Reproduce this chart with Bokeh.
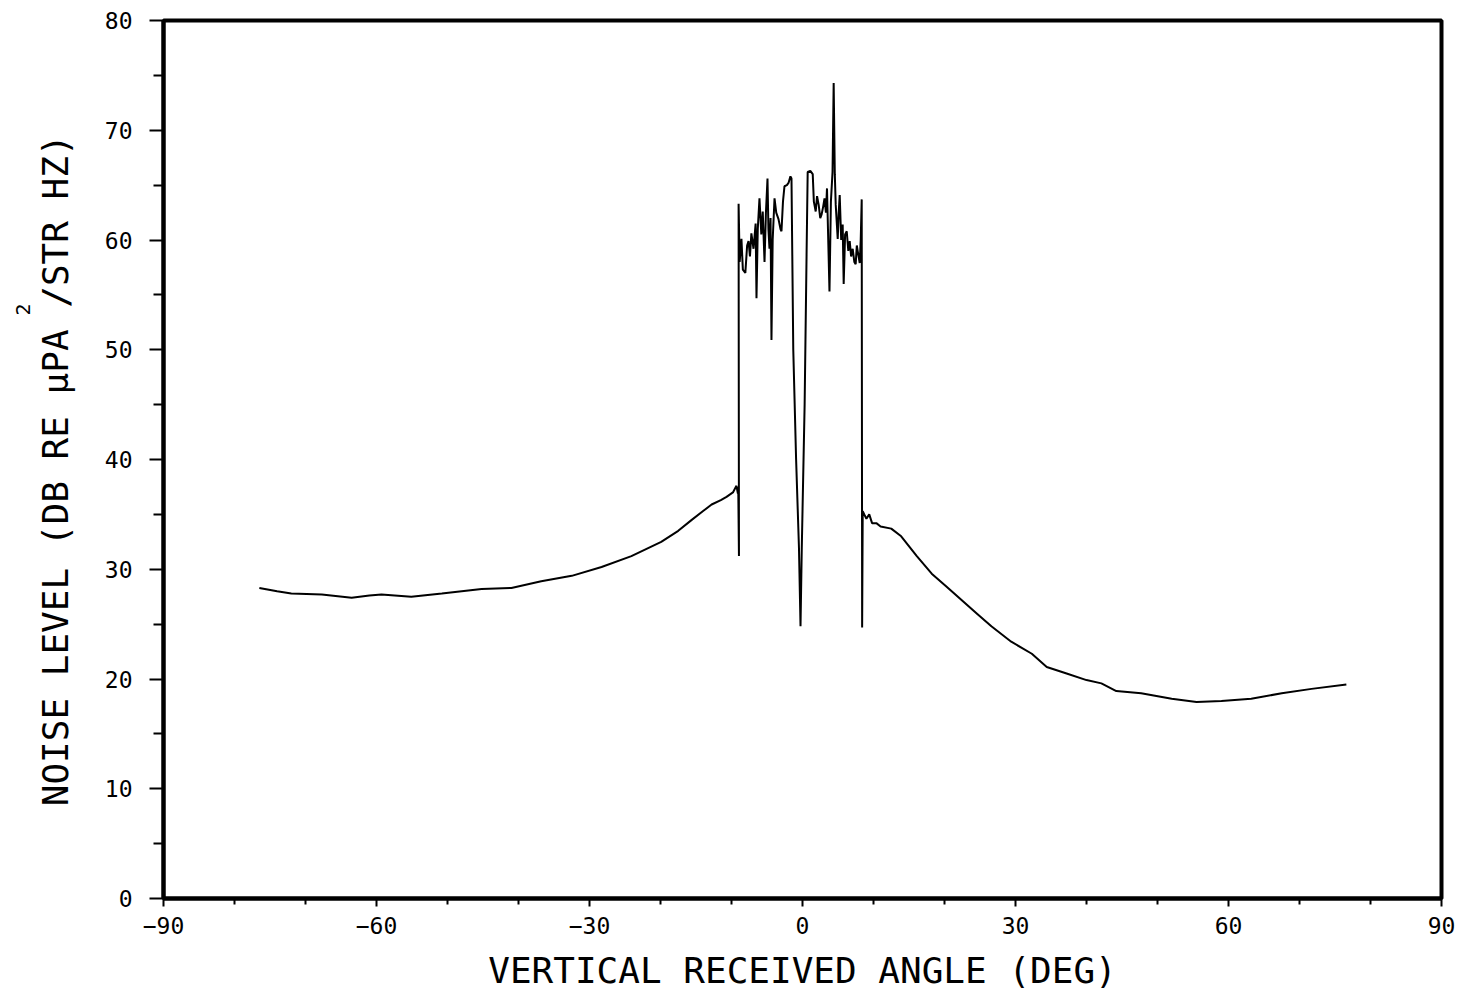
from bokeh.plotting import figure
from bokeh.models import Range1d, FixedTicker, Title, ColumnDataSource
from bokeh.embed import file_html
from bokeh.resources import INLINE

# ---- data ----
left_angle = [-76.5, -74.0, -72.0, -67.7, -63.5, -61.0, -59.3, -55.1, -50.8, -45.2, -41.0,
              -36.8, -32.5, -28.3, -24.1, -19.9, -17.5, -15.6, -14.0, -12.8, -11.5, -10.7,
              -9.8, -9.3, -9.1, -9.05, -8.95]
left_level = [28.3, 28.0, 27.8, 27.7, 27.4, 27.6, 27.7, 27.5, 27.8, 28.2, 28.3,
              28.9, 29.4, 30.2, 31.2, 32.5, 33.5, 34.5, 35.3, 35.9, 36.3, 36.6,
              37.0, 37.6, 36.9, 37.5, 31.2]

center_angle = [-9.0, -8.85, -8.6, -8.4, -8.05, -7.8, -7.6, -7.4, -7.2, -6.9, -6.6, -6.48,
                -6.3, -6.06, -5.8, -5.6, -5.35, -5.15, -4.93, -4.8, -4.65, -4.5, -4.37,
                -4.2, -3.94, -3.7, -3.38, -3.1, -2.96, -2.75, -2.54, -2.2, -1.97, -1.7,
                -1.55, -1.3, -0.9, -0.5, -0.28, -0.1, 0.3, 0.6, 0.73, 1.1, 1.44, 1.6,
                1.86, 2.05, 2.28, 2.5, 2.68, 2.9, 3.1, 3.3, 3.45, 3.8, 4.0, 4.23, 4.39,
                4.55, 4.68, 4.96, 5.1, 5.24, 5.45, 5.66, 5.8, 6.0, 6.23, 6.45, 6.65,
                6.85, 7.07, 7.3, 7.49, 7.65, 7.77, 8.06, 8.2, 8.34, 8.4]
center_level = [63.3, 58.0, 60.1, 57.3, 57.0, 59.5, 59.9, 58.5, 60.6, 59.2, 61.5, 54.7,
                61.0, 63.8, 60.5, 62.6, 58.0, 62.5, 65.6, 61.0, 59.2, 62.0, 50.9,
                60.0, 63.8, 62.5, 61.9, 61.0, 60.8, 63.5, 64.9, 65.0, 65.2, 65.8,
                65.6, 50.0, 40.0, 32.0, 24.8, 32.0, 45.0, 60.0, 66.2, 66.3, 66.0, 63.5,
                62.6, 64.0, 63.2, 62.0, 62.3, 63.0, 63.8, 62.5, 64.7, 55.3, 63.5, 66.2, 74.3,
                66.0, 63.2, 60.1, 62.5, 64.1, 60.0, 61.4, 56.0, 60.5, 60.8, 59.0, 59.9,
                58.5, 59.2, 58.0, 57.8, 59.5, 59.0, 57.9, 60.0, 63.7, 24.7]

right_angle = [8.48, 8.7, 9.0, 9.4, 9.8, 10.4, 11.0, 12.5, 13.9, 16.1, 18.2, 20.3, 22.4,
               24.5, 26.6, 29.4, 32.3, 34.4, 37.2, 40.0, 42.1, 44.2, 47.7, 52.0, 55.5,
               59.0, 63.2, 67.5, 71.7, 76.6]
right_level = [35.3, 35.0, 34.6, 35.0, 34.2, 34.2, 33.9, 33.7, 33.0, 31.2, 29.6, 28.4, 27.2,
               26.0, 24.8, 23.4, 22.3, 21.1, 20.5, 19.9, 19.6, 18.9, 18.7, 18.2, 17.9,
               18.0, 18.2, 18.7, 19.1, 19.5]

x_ticks = [-90, -60, -30, 0, 30, 60, 90]
x_minor = [-80, -70, -50, -40, -20, -10, 10, 20, 40, 50, 70, 80]
y_ticks = [0, 10, 20, 30, 40, 50, 60, 70, 80]
y_minor = [5, 15, 25, 35, 45, 55, 65, 75]

angle = left_angle + center_angle + right_angle
level = left_level + center_level + right_level

FONT = "DejaVu Sans Mono"

p = figure(output_backend="svg", toolbar_location=None,
           frame_width=1278, frame_height=878,
           min_border_left=163, min_border_right=15, min_border_top=20, min_border_bottom=85,
           x_range=Range1d(-90, 90), y_range=Range1d(0, 80))
p.background_fill_color = "white"
p.border_fill_color = "white"
p.outline_line_color = "black"
p.outline_line_width = 4
p.grid.visible = False

src = ColumnDataSource(data=dict(angle=angle, level=level))
p.line("angle", "level", source=src, line_color="black", line_width=2)

xa = p.xaxis[0]
xa.ticker = FixedTicker(ticks=x_ticks, minor_ticks=x_minor)
xa.major_label_overrides = {v: ("\u2212" + str(-v) if v < 0 else str(v)) for v in x_ticks}
xa.axis_label = "VERTICAL RECEIVED ANGLE (DEG)"
ya = p.yaxis[0]
ya.ticker = FixedTicker(ticks=y_ticks, minor_ticks=y_minor)
ya.axis_label = "NOISE LEVEL (DB RE \u03bcPA /STR HZ)\u00a0"

for ax in (xa, ya):
    ax.axis_line_width = 4
    ax.axis_line_color = "black"
    ax.major_tick_line_width = 2
    ax.minor_tick_line_width = 2
    ax.major_tick_line_color = "black"
    ax.minor_tick_line_color = "black"
    ax.major_tick_in = 0
    ax.minor_tick_in = 0
    ax.major_label_text_font = FONT
    ax.major_label_text_font_size = "23px"
    ax.major_label_text_color = "black"
    ax.axis_label_text_font = FONT
    ax.axis_label_text_font_style = "normal"
    ax.axis_label_text_color = "black"
    ax.axis_label_text_font_size = "36px"

xa.major_tick_out = 8
xa.minor_tick_out = 6
xa.major_label_standoff = 10
xa.axis_label_standoff = 13

ya.major_tick_out = 14
ya.minor_tick_out = 10
ya.major_label_standoff = 17
ya.axis_label_standoff = 26

# superscript "2" of the y-axis unit, placed in the left side panel
sup = Title(text="2", align="right", offset=283, standoff=4,
            text_font=FONT, text_font_size="20px", text_font_style="normal",
            text_color="black")
p.add_layout(sup, "left")

open("out.html", "w").write(file_html(p, INLINE))
